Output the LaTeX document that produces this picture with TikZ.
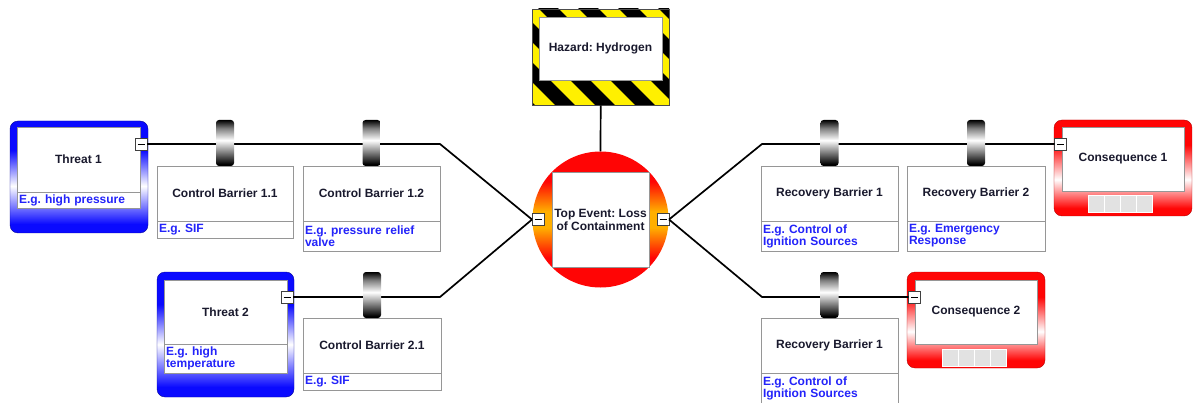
\documentclass[tikz,border=0pt]{standalone}
\usepackage{fontspec}
\setmainfont{Liberation Sans}
\usetikzlibrary{positioning}
\frenchspacing

\definecolor{titletext}{RGB}{25,25,45}
\definecolor{desctext}{RGB}{35,35,250}
\definecolor{boxline}{RGB}{150,150,150}
\definecolor{hazyellow}{RGB}{255,240,0}
\definecolor{keygrey}{RGB}{226,226,226}
\definecolor{threatblue}{RGB}{10,10,255}
\definecolor{consred}{RGB}{255,5,5}
\definecolor{amber}{RGB}{255,175,0}

\pgfdeclareverticalshading{threatshade}{100bp}{color(0bp)=(threatblue); color(29bp)=(threatblue); color(46bp)=(white); color(62bp)=(threatblue); color(100bp)=(threatblue)}
\pgfdeclareverticalshading{consshade}{100bp}{color(0bp)=(consred); color(29bp)=(consred); color(44bp)=(white); color(62bp)=(consred); color(100bp)=(consred)}
\pgfdeclareverticalshading{topshade}{100bp}{color(0bp)=(consred); color(36bp)=(consred); color(47bp)=(amber); color(53bp)=(amber); color(64bp)=(consred); color(100bp)=(consred)}
\pgfdeclareverticalshading{barrelshade}{100bp}{color(0bp)=(black); color(27bp)=(black); color(40bp)=(gray); color(53bp)=(white); color(66bp)=(gray); color(75bp)=(black); color(100bp)=(black)}

\tikzset{
  card/.style={draw=boxline, fill=white, inner sep=0pt, outer sep=0pt, anchor=north west,
    align=center, text=titletext, font=\bfseries\fontsize{12}{13}\selectfont},
  desc/.style={draw=boxline, fill=white, inner xsep=2pt, inner ysep=0pt, outer sep=0pt,
    align=left, text=desctext, font=\bfseries\fontsize{12}{12}\selectfont},
  frame/.style={shade, rounded corners=8pt, inner sep=0pt, outer sep=0pt, anchor=north west},
  barrel/.style={shade, shading=barrelshade, rounded corners=3pt, minimum width=18pt,
    minimum height=46pt, inner sep=0pt, outer sep=0pt},
  minus/.style={draw=black!75, fill=white, minimum size=12pt, inner sep=0pt, outer sep=0pt},
  key/.style={draw=white, fill=keygrey, minimum width=16pt, minimum height=17pt,
    inner sep=0pt, anchor=north west},
  link/.style={line width=1.7pt}
}

\begin{document}
\begin{tikzpicture}[x=1pt, y=-1pt]
\useasboundingbox (0,0) rectangle (1193,403);

% Hazard
\begin{scope}
\clip (532,9) rectangle (669,105);
\fill[hazyellow] (532,9) rectangle (669,105);
\foreach \s in {-4,...,6}
  \draw[line width=14pt] (500+40*\s,0) -- ++(120,120);
\end{scope}
\node[draw=black!70, minimum width=137pt, minimum height=96pt, inner sep=0pt, anchor=north west] (hazframe) at (532,9) {};
\node[card, minimum width=123pt, minimum height=63pt] (hazard) at (539,17) {Hazard: Hydrogen};

% Top event
\node[circle, shade, shading=topshade, minimum size=136pt, inner sep=0pt] (topevent) at (600.5,219.5) {};
\node[card, anchor=center, minimum width=97pt, minimum height=95pt] (topbox) at (topevent.center) {Top Event: Loss\\of Containment};
\node[minus] (tlm) at (538,219.5) {\rule{7pt}{0.8pt}};
\node[minus] (trm) at (663,219.5) {\rule{7pt}{0.8pt}};

% Threats
\node[frame, shading=threatshade, draw=threatblue!60!black, minimum width=138pt, minimum height=112pt] (t1frame) at (10,121) {};
\node[card, minimum width=123pt, minimum height=65pt] (t1) at (17,127) {Threat 1};
\node[desc, text width=119pt, minimum height=16pt, below=0pt of t1] (t1desc) {E.g. high pressure};
\node[minus] (t1m) at (141,144) {\rule{7pt}{0.8pt}};

\node[frame, shading=threatshade, draw=threatblue!60!black, minimum width=137pt, minimum height=125pt] (t2frame) at (157,272) {};
\node[card, minimum width=123pt, minimum height=64pt] (t2) at (164,280) {Threat 2};
\node[desc, text width=119pt, minimum height=29pt, below=0pt of t2] (t2desc) {E.g. high\\temperature};
\node[minus] (t2m) at (287,297) {\rule{7pt}{0.8pt}};

% Control barriers
\node[card, minimum width=136pt, minimum height=55pt] (cb11) at (157,166) {Control Barrier 1.1};
\node[desc, text width=132pt, minimum height=17pt, below=0pt of cb11] (cb11desc) {E.g. SIF};
\node[card, minimum width=137pt, minimum height=55pt] (cb12) at (303,166) {Control Barrier 1.2};
\node[desc, text width=133pt, minimum height=30pt, below=0pt of cb12] (cb12desc) {E.g. pressure relief\\valve};
\node[card, minimum width=138pt, minimum height=55pt] (cb21) at (303,318) {Control Barrier 2.1};
\node[desc, text width=134pt, minimum height=17pt, below=0pt of cb21] (cb21desc) {E.g. SIF};

% Recovery barriers
\node[card, minimum width=137pt, minimum height=55pt] (rb1) at (761,166) {Recovery Barrier 1};
\node[desc, text width=133pt, minimum height=30pt, below=0pt of rb1] (rb1desc) {E.g. Control of\\Ignition Sources};
\node[card, minimum width=138pt, minimum height=55pt] (rb2) at (907,166) {Recovery Barrier 2};
\node[desc, text width=134pt, minimum height=30pt, below=0pt of rb2] (rb2desc) {E.g. Emergency\\Response};
\node[card, minimum width=137pt, minimum height=55pt] (rb3) at (761,318) {Recovery Barrier 1};
\node[desc, text width=133pt, minimum height=30pt, below=0pt of rb3] (rb3desc) {E.g. Control of\\Ignition Sources};

% Consequences
\node[frame, shading=consshade, draw=consred!70!black, minimum width=138pt, minimum height=96pt] (c1frame) at (1054,120) {};
\node[card, minimum width=122pt, minimum height=64pt] (c1) at (1062,127) {Consequence 1};
\foreach \k in {0,...,3}
  \node[key] (c1key\k) at (1088+16*\k,195) {};
\node[minus] (c1m) at (1060.5,144) {\rule{7pt}{0.8pt}};

\node[frame, shading=consshade, draw=consred!70!black, minimum width=138pt, minimum height=96pt] (c2frame) at (907,272) {};
\node[card, minimum width=122pt, minimum height=64pt] (c2) at (915,280) {Consequence 2};
\foreach \k in {0,...,3}
  \node[key] (c2key\k) at (942+16*\k,349) {};
\node[minus] (c2m) at (914.5,297) {\rule{7pt}{0.8pt}};

% Links
\coordinate (bend1) at (440,144);
\coordinate (bend2) at (440,297);
\coordinate (bend3) at (762,144);
\coordinate (bend4) at (762,297);
\draw[link] (hazframe.south) -- (topevent.north);
\draw[link] (t1m.east) -- (bend1) -- (tlm.west);
\draw[link] (t2m.east) -- (bend2) -- (tlm.west);
\draw[link] (trm.east) -- (bend3) -- (c1m.west);
\draw[link] (trm.east) -- (bend4) -- (c2m.west);

% Barrels
\node[barrel, above=0pt of cb11] (cb11bar) {};
\node[barrel, above=0pt of cb12] (cb12bar) {};
\node[barrel, above=0pt of cb21] (cb21bar) {};
\node[barrel, above=0pt of rb1] (rb1bar) {};
\node[barrel, above=0pt of rb2] (rb2bar) {};
\node[barrel, above=0pt of rb3] (rb3bar) {};

\end{tikzpicture}
\end{document}
